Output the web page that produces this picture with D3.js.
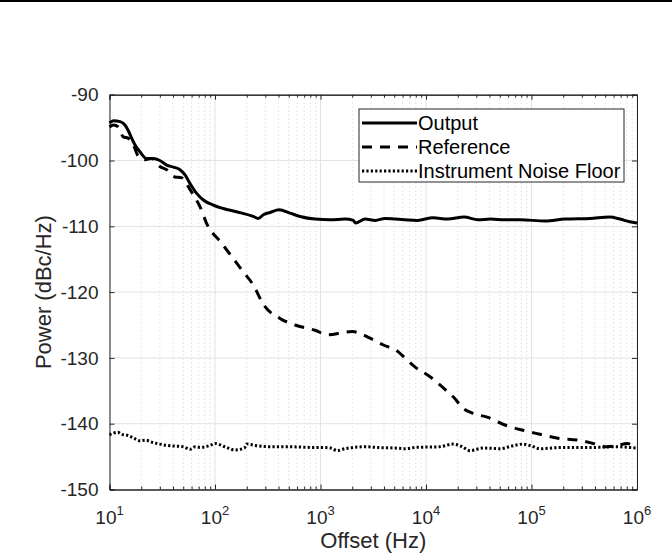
<!DOCTYPE html>
<html>
<head>
<meta charset="utf-8">
<script src="https://d3js.org/d3.v7.min.js"></script>
<style>
  body { margin: 0; background: #fff; }
  text { font-family: "Liberation Sans", Arial, sans-serif; }
</style>
</head>
<body>
<script>
// Chart Parameters
var svgWidth = 672;
var svgHeight = 553;

var margin = { top: 94.7, right: 35, bottom: 63.5, left: 109.5 };

var width = svgWidth - margin.left - margin.right;
var height = svgHeight - margin.top - margin.bottom;

// Data: offset frequency (Hz) and power (dBc/Hz)
var outputFreq = [10, 10.85, 12.6, 14, 15, 16.2, 17.4, 19.5, 22.5, 26, 30, 34.8, 40.3, 46.6, 52, 58, 67, 77.5,
  97, 120, 160, 230, 257, 290, 333, 405, 515, 640, 890, 1240, 1700, 2050, 2150, 2650, 3300, 4100, 5100,
  6300, 8300, 11700, 16000, 23000, 31000, 41000, 56000, 78000, 135000, 208000, 360000, 550000, 690000,
  850000, 1000000];
var outputPower = [-94.3, -93.95, -94.1, -94.6, -95.4, -96.6, -97.6, -98.7, -99.7, -99.7, -100, -100.7, -101,
  -101.4, -102.2, -103.5, -105, -106, -106.8, -107.3, -107.8, -108.5, -108.8, -108.2, -107.9, -107.5, -108,
  -108.5, -108.9, -109, -108.9, -109.1, -109.5, -108.9, -109.1, -108.8, -108.9, -109, -109.1, -108.7, -108.9,
  -108.6, -109, -108.9, -109, -109, -109.2, -108.9, -108.8, -108.6, -108.9, -109.3, -109.5];

var referenceFreq = [10, 10.9, 12.1, 13.5, 15, 16.8, 18.8, 21.7, 25, 30, 34.8, 41.6, 48, 56, 62, 72, 83, 116,
  185, 230, 291, 413, 573, 887, 1178, 1700, 2000, 2950, 3900, 5400, 6300, 7900, 11000, 15400, 19300, 21000,
  27500, 38000, 56000, 83000, 120000, 178000, 276000, 385000, 520000, 665000, 800000, 1000000];
var referencePower = [-94.9, -94.6, -94.9, -96.4, -96.6, -97.6, -99.4, -99.9, -99.7, -100.9, -101.4, -102.5,
  -102.6, -104, -105.2, -107, -109.5, -112.6, -116.9, -118.9, -122, -124, -125, -125.8, -126.5, -126.1, -126,
  -127, -128, -129, -130, -131.4, -132.9, -134.9, -136.4, -137.2, -138.4, -139, -140.2, -141, -141.6, -142.2,
  -142.5, -143, -143.5, -143.3, -143, -143.7];

var noiseFreq = [10, 12, 13, 15, 17, 19.5, 22, 25, 30, 35, 42, 50, 58, 65, 72, 90, 100, 124, 155, 190, 200,
  240, 333, 515, 800, 1000, 1250, 1440, 1700, 2650, 3300, 5100, 6300, 8000, 13500, 18000, 22000, 26000,
  35000, 50000, 65000, 83000, 100000, 120000, 200000, 400000, 600000, 1000000];
var noisePower = [-141.7, -141.3, -141.6, -141.8, -142.2, -142.6, -142.5, -142.8, -143.1, -143.3, -143.4,
  -143.5, -143.9, -143.5, -143.6, -143.3, -143, -143.5, -144, -143.7, -143.1, -143.3, -143.5, -143.5, -143.6,
  -143.6, -143.7, -144.1, -143.8, -143.5, -143.6, -143.7, -143.8, -143.6, -143.5, -143.1, -143.5, -144.1,
  -143.7, -143.8, -143.4, -143.1, -143.4, -143.8, -143.6, -143.6, -143.5, -143.7];

var xTickExps = [1, 2, 3, 4, 5, 6];
var yTicks = [-150, -140, -130, -120, -110, -100, -90];

var seriesNames = ["Output", "Reference", "Instrument Noise Floor"];
var seriesDash = [null, "10,8", "2.2,2.2"];

var axisColor = "#262626";

var svg = d3.select("body")
            .append("svg")
            .attr("width", svgWidth)
            .attr("height", svgHeight);

// thin black rule across the very top
svg.append("rect")
   .attr("x", 0).attr("y", 0)
   .attr("width", svgWidth).attr("height", 2)
   .attr("fill", "#000");

var chartGroup = svg.append("g")
                    .attr("transform", `translate(${margin.left}, ${margin.top})`);

// Create scale functions
var xLogScale = d3.scaleLog().domain([10, 1e6]).range([0, width]);
var yLinearScale = d3.scaleLinear().domain([-150, -90]).range([height, 0]);

// minor decade positions
var minorTicks = [];
for (var e = 1; e < 6; e++) {
  for (var m = 2; m < 10; m++) minorTicks.push(m * Math.pow(10, e));
}
var majorTicks = xTickExps.map(function(d) { return Math.pow(10, d); });

// minor grid (dotted)
chartGroup.append("g")
  .selectAll("line")
  .data(minorTicks)
  .enter().append("line")
  .attr("x1", d => xLogScale(d)).attr("x2", d => xLogScale(d))
  .attr("y1", 0).attr("y2", height)
  .attr("stroke", "#d2d2d2")
  .attr("stroke-width", 1)
  .attr("stroke-dasharray", "1,3");

// major grid
chartGroup.append("g")
  .selectAll("line")
  .data(majorTicks)
  .enter().append("line")
  .attr("x1", d => xLogScale(d)).attr("x2", d => xLogScale(d))
  .attr("y1", 0).attr("y2", height)
  .attr("stroke", "#e3e3e3")
  .attr("stroke-width", 1);

chartGroup.append("g")
  .selectAll("line")
  .data(yTicks)
  .enter().append("line")
  .attr("x1", 0).attr("x2", width)
  .attr("y1", d => yLinearScale(d)).attr("y2", d => yLinearScale(d))
  .attr("stroke", "#e3e3e3")
  .attr("stroke-width", 1);

// Axes (ticks pointing inward, box on all sides)
var bottomAxis = d3.axisBottom(xLogScale).tickValues(majorTicks).tickSize(-5).tickFormat("");
var topAxis = d3.axisTop(xLogScale).tickValues(majorTicks).tickSize(-5).tickFormat("");
var leftAxis = d3.axisLeft(yLinearScale).tickValues(yTicks).tickSize(-5).tickFormat("");
var rightAxis = d3.axisRight(yLinearScale).tickValues(yTicks).tickSize(-5).tickFormat("");
var bottomMinor = d3.axisBottom(xLogScale).tickValues(minorTicks).tickSize(-3).tickFormat("");
var topMinor = d3.axisTop(xLogScale).tickValues(minorTicks).tickSize(-3).tickFormat("");

function styleAxis(g) {
  g.selectAll("path, line").attr("stroke", axisColor);
  g.select(".domain").attr("stroke-width", 1);
}

chartGroup.append("g").attr("transform", `translate(0, ${height})`).call(bottomAxis).call(styleAxis);
chartGroup.append("g").attr("transform", `translate(0, ${height})`).call(bottomMinor).call(styleAxis);
chartGroup.append("g").call(topAxis).call(styleAxis);
chartGroup.append("g").call(topMinor).call(styleAxis);
chartGroup.append("g").call(leftAxis).call(styleAxis);
chartGroup.append("g").attr("transform", `translate(${width}, 0)`).call(rightAxis).call(styleAxis);

// y tick labels
chartGroup.append("g")
  .selectAll("text")
  .data(yTicks)
  .enter().append("text")
  .attr("x", -11)
  .attr("y", d => yLinearScale(d))
  .attr("dy", "0.35em")
  .attr("text-anchor", "end")
  .attr("font-size", 19)
  .attr("fill", axisColor)
  .text(d => d);

// x tick labels: 10 with superscript exponent
var xLabels = chartGroup.append("g")
  .selectAll("text")
  .data(xTickExps)
  .enter().append("text")
  .attr("x", d => xLogScale(Math.pow(10, d)))
  .attr("y", height + 35)
  .attr("text-anchor", "middle")
  .attr("font-size", 19)
  .attr("fill", axisColor);
xLabels.append("tspan").text("10");
xLabels.append("tspan").attr("dy", -9).attr("font-size", 13).text(d => d);

// axis titles
chartGroup.append("text")
  .attr("x", width / 2)
  .attr("y", height + 59)
  .attr("text-anchor", "middle")
  .attr("font-size", 22)
  .attr("fill", axisColor)
  .text("Offset (Hz)");

chartGroup.append("text")
  .attr("transform", `translate(${-59}, ${height / 2}) rotate(-90)`)
  .attr("text-anchor", "middle")
  .attr("font-size", 22)
  .attr("fill", axisColor)
  .text("Power (dBc/Hz)");

// series lines
var seriesData = [
  d3.zip(outputFreq, outputPower),
  d3.zip(referenceFreq, referencePower),
  d3.zip(noiseFreq, noisePower)
];

var line = d3.line()
  .x(d => xLogScale(d[0]))
  .y(d => yLinearScale(d[1]))
  .curve(d3.curveMonotoneX);

seriesData.forEach(function(data, i) {
  chartGroup.append("path")
    .datum(data)
    .attr("fill", "none")
    .attr("stroke", "#000")
    .attr("stroke-width", 3)
    .attr("stroke-dasharray", seriesDash[i])
    .attr("d", line);
});

// Legend
var legend = svg.append("g").attr("transform", "translate(359, 109)");
legend.append("rect")
  .attr("width", 265).attr("height", 73)
  .attr("fill", "#fff")
  .attr("stroke", axisColor)
  .attr("stroke-width", 1);

seriesNames.forEach(function(name, i) {
  var yy = 14 + i * 24;
  legend.append("line")
    .attr("x1", 3).attr("x2", 58)
    .attr("y1", yy).attr("y2", yy)
    .attr("stroke", "#000")
    .attr("stroke-width", 3)
    .attr("stroke-dasharray", seriesDash[i]);
  legend.append("text")
    .attr("x", 59)
    .attr("y", yy)
    .attr("dy", "0.35em")
    .attr("font-size", 20)
    .attr("fill", "#000")
    .text(name);
});
</script>
</body>
</html>
